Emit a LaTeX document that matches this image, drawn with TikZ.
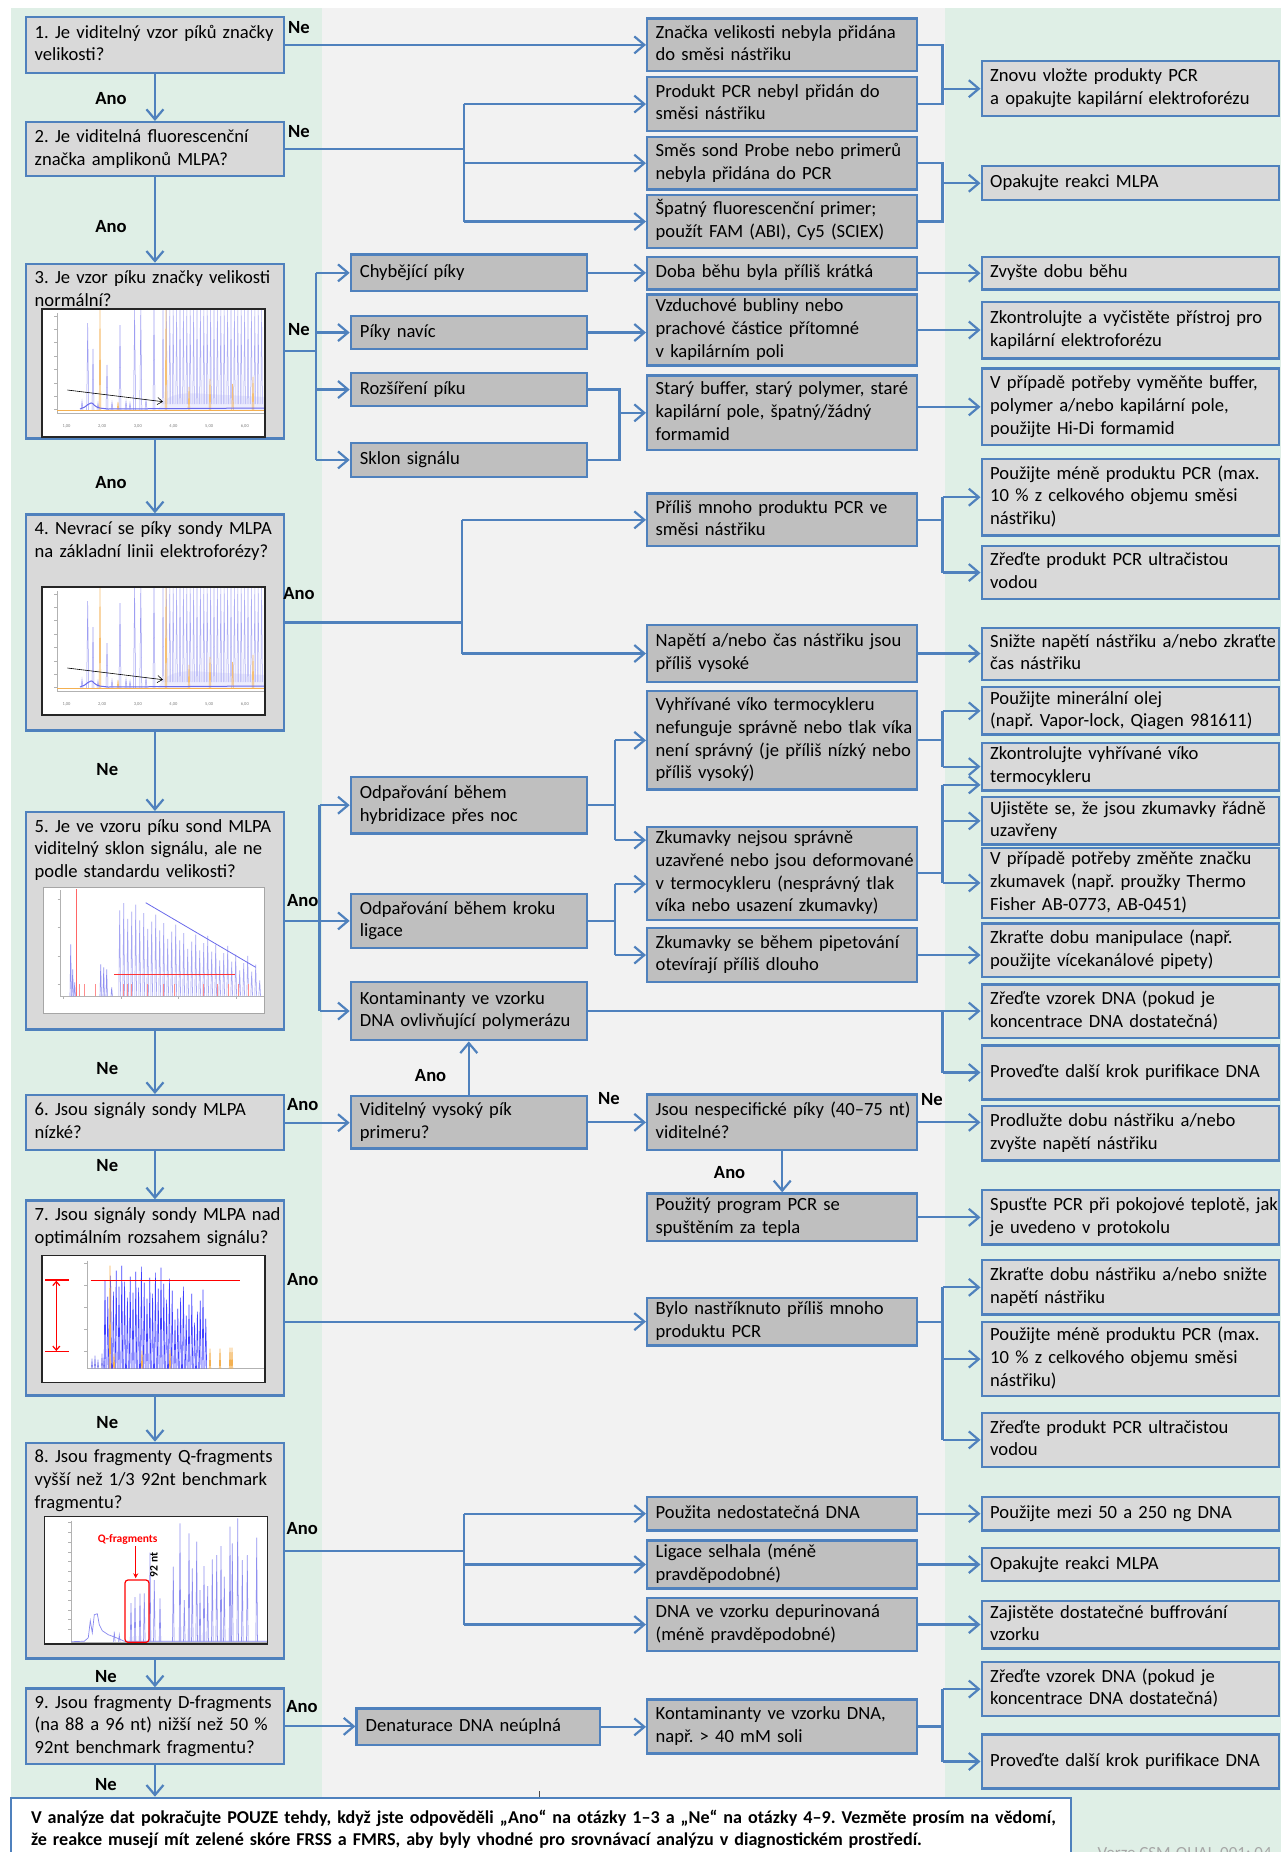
\documentclass[tikz,border=0pt]{standalone}
\usepackage{fontspec}
\setmainfont{Carlito}
\usetikzlibrary{arrows.meta,positioning}
\frenchspacing

\definecolor{flowblue}{RGB}{79,129,189}
\definecolor{qfill}{RGB}{217,217,217}
\definecolor{cfill}{RGB}{191,191,191}
\definecolor{bandgreen}{RGB}{223,239,230}
\definecolor{bandgray}{RGB}{242,242,242}
\definecolor{peakblue}{RGB}{105,105,235}
\definecolor{peakorange}{RGB}{244,176,80}

% lines of a box, never rewrapped
\newcommand{\ml}[1]{\begin{tabular}{@{}l@{}}#1\end{tabular}}
\newcommand{\toptext}[2]{\parbox[t][#1][t]{240.5pt}{\begin{tabular}[t]{@{}l@{}}#2\end{tabular}}}

% size standard run (questions 3 and 4)
\newcommand{\sizechart}[3]{%
\begin{scope}[shift={(#1,#2)}]
\fill[white] (0,0) rectangle (223,128);
\fill[peakblue!12] (116,101) .. controls (124,84) and (140,83) .. (165,85) -- (223,88) -- (223,101) -- cycle;
\draw[gray!60,line width=0.5pt] (15,4) -- (15,104) -- (223,104);
\foreach \y in {7,20,33,47,60,74,87,100} \draw[gray!60,line width=0.5pt] (12,\y) -- (15,\y);
\foreach \l [count=\i from 0] in {1,...,6}
  \node[font=\fontsize{4.5}{5}\selectfont,text=gray] (#3x\i) at (24.5+35.66*\i,117.7) {\l,00};
\draw[peakorange,line width=0.8pt] (15,101) -- (223,101);
\foreach \x in {121,124.4,...,221}
  \draw[peakblue!55,line width=0.5pt] (\x-0.8,95) -- (\x,1) -- (\x+0.8,95);
\foreach \x/\ph in {45.7/14,51/40,65/56,78/16,92.6/1,98.8/1,112/1,40/92,56/94,70/93,84/92,88/94,104/90}
  \draw[peakblue!65,line width=0.5pt] (\x-1,101) -- (\x,\ph) -- (\x+1,101);
\foreach \x/\ph in {58/1,124/1,147/78,168/70,190.6/75,211/68,76/93}
  \draw[peakorange!80,line width=0.7pt] (\x-0.8,101) -- (\x,\ph) -- (\x+0.8,101);
\draw[peakblue,line width=1pt] (38,100) .. controls (45,99) and (48,90) .. (52,96) .. controls (56,100) and (60,99) .. (66,100) -- (223,99);
\draw[black,line width=0.6pt,-{Straight Barb[length=5pt,width=7pt]}] (25.3,81) -- (121,92.7);
\draw[black!85,line width=1.2pt] (0,0) rectangle (223,128);
\end{scope}}

% slope run (question 5)
\newcommand{\slopechart}[2]{%
\begin{scope}[shift={(#1,#2)}]
\fill[white] (0,0) rectangle (221,126);
\draw[gray!60,line width=0.5pt] (17,3) -- (17,109) -- (221,109);
\foreach \y in {12,40,69,97} \draw[gray!60,line width=0.5pt] (14,\y) -- (17,\y);
\foreach \x in {20,78,135,193} \draw[gray!60,line width=0.5pt] (\x,109) -- (\x,112);
\draw[red!60,line width=0.9pt] (33,2) -- (33,109);
\foreach \x/\ph in {27/57,29/82,31/95,57/77,60/80,63/82,68/100}
  \draw[peakblue!75,line width=0.6pt] (\x-0.7,109) -- (\x,\ph) -- (\x+0.7,109);
\foreach \x [count=\i] in {76,80,...,216}{
  \pgfmathsetmacro{\ph}{9+(\x-76)*0.45+mod(\i*37,23)}
  \draw[peakblue!60,line width=0.6pt] (\x-0.9,109) -- (\x,\ph) -- (\x+0.9,109);}
\foreach \x in {36,41,52,80,84,88,104,120,131,160,174,185,195,205}
  \draw[red!45,line width=0.6pt] (\x,109) -- (\x,97);
\draw[peakblue,line width=0.8pt] (102,15.4) -- (212,80);
\draw[red!80,line width=0.9pt] (70.6,86.7) -- (191,86.7);
\draw[gray!70,line width=1pt] (0,0) rectangle (221,126);
\end{scope}}

% run above the optimal range (question 7)
\newcommand{\highchart}[2]{%
\begin{scope}[shift={(#1,#2)}]
\fill[white] (0,0) rectangle (223,127);
\draw[gray!60,line width=0.5pt] (45,5) -- (45,113) -- (223,113);
\foreach \y in {8,30,52,74,96} \draw[gray!60,line width=0.5pt] (42,\y) -- (45,\y);
\foreach \x/\ph in {50/103,53/100,56/104,60/98,62/102}
  \draw[peakblue!80,line width=0.6pt] (\x-0.7,113) -- (\x,\ph) -- (\x+0.7,113);
\foreach \x [count=\i] in {63,65.8,...,166}{
  \pgfmathsetmacro{\ph}{\x<130 ? 9+mod(\i*53,37) : 30+mod(\i*29,40)}
  \draw[blue!75,line width=0.6pt] (\x-0.9,113) -- (\x,\ph) -- (\x+0.9,113);}
\foreach \x/\ph in {68/10,72/98,100/95,128/94,168/93,178/93,188/92,190/92}
  \draw[peakorange,line width=0.7pt] (\x-0.7,113) -- (\x,\ph) -- (\x+0.7,113);
\draw[red,line width=0.9pt] (48.6,24.3) -- (198,24.3);
\draw[red,line width=1.2pt] (3,24.3) -- (26.6,24.3) (3,96) -- (26.6,96);
\draw[red,line width=1.2pt,{Straight Barb[length=4pt,width=7pt]}-{Straight Barb[length=4pt,width=7pt]}] (14.3,25) -- (14.3,95.3);
\draw[black!85,line width=1.2pt] (0,0) rectangle (223,127);
\end{scope}}

% Q-fragment run (question 8)
\newcommand{\qchart}[2]{%
\begin{scope}[shift={(#1,#2)}]
\fill[white] (0,0) rectangle (223.4,127.3);
\draw[gray!60,line width=0.5pt] (26.7,4) -- (26.7,125.6) -- (223.4,125.6);
\foreach \y in {6,15.7,...,122} \draw[gray!60,line width=0.5pt] (23.7,\y) -- (26.7,\y);
\draw[peakblue!80,line width=0.7pt] (27,125) -- (40,124.5) -- (44,121) -- (46,104) -- (48,116) -- (50,98) -- (53,97) -- (55,108) -- (58,114) -- (64,118) -- (72,121) -- (80,124.5) -- (223,124.5);
\foreach \x/\ph in {86.7/86.3,90.7/80.3,95.7/77,100/76.6,105.7/36,110/63.3,115.7/81.6,129/50,135.7/6.6,140/83.3,144.7/16.6,148/51.6,152.4/25,155.7/73.3,159.7/49.3,163.4/69.3,168/42.6,172.4/38.3,176.7/29.3,180/60,185.7/10,188/26.6,193.4/1.6,198/43.3,203/38.3,212.4/21,70/115,75/118}
  \draw[peakblue!75,line width=0.6pt] (\x-0.8,125) -- (\x,\ph) -- (\x+0.8,125);
\draw[red,line width=1.2pt,rounded corners=3pt] (80.7,63.3) rectangle (104.7,125.6);
\draw[red,line width=1pt,-{Stealth[length=5pt,width=5pt]}] (91.4,29.3) -- (91.4,61.6);
\node[text=red,font=\bfseries\fontsize{11.5}{12}\selectfont] (qfraglabel) at (83.4,22.6) {Q-fragments};
\node[rotate=90,font=\bfseries\fontsize{11.5}{12}\selectfont] (ntlabel) at (109.7,48.3) {92 nt};
\draw[black!85,line width=1.2pt] (0,0) rectangle (223.4,127.3);
\end{scope}}

\begin{document}
\begin{tikzpicture}[x=1pt,y=-1pt,>={Straight Barb[length=10pt,width=17pt]}]
\tikzstyle{boxbase} = [rectangle, draw=flowblue, line width=2.4pt, anchor=north west,
inner xsep=8.5pt, inner ysep=1pt, align=left, font=\fontsize{18.6}{22.7}\selectfont]
\tikzstyle{question} = [boxbase, fill=qfill, minimum width=258.5pt, inner xsep=9pt, text width=240.5pt]
\tikzstyle{qtop} = [question, inner ysep=4pt]
\tikzstyle{cause} = [boxbase, fill=cfill, minimum width=235.8pt, inner xsep=9pt, text width=217.8pt]
\tikzstyle{cause2} = [boxbase, fill=cfill, minimum width=270pt, text width=253pt]
\tikzstyle{remedy} = [boxbase, fill=qfill, minimum width=297pt, text width=280pt]
\tikzstyle{notebox} = [rectangle, draw=flowblue, line width=2.4pt, fill=white, anchor=north west,
minimum width=1060.2pt, minimum height=64pt, inner xsep=20pt, text width=1020.2pt, align=left,
font=\bfseries\fontsize{18.1}{22.7}\selectfont]
\tikzstyle{answer} = [font=\bfseries\fontsize{18.6}{22}\selectfont]
\tikzstyle{line} = [draw=flowblue, line width=2.2pt, ->]
\tikzstyle{wire} = [draw=flowblue, line width=2.2pt]

\useasboundingbox (0,0) rectangle (1281,1852);
\clip (0,0) rectangle (1281,1852);
% bands
\fill[bandgreen] (11,8) rectangle (322,1852);
\fill[bandgray] (322,8) rectangle (944.6,1852);
\fill[bandgreen] (944.6,8) rectangle (1281,1852);

% questions
\node[question, minimum height=56pt] (q1) at (24.5,15.7) {\ml{1. Je viditelný vzor píků značky\\velikosti?}};
\node[question, minimum height=54pt] (q2) at (24.5,121) {\ml{2. Je viditelná fluorescenční\\značka amplikonů MLPA?}};
\node[qtop, minimum height=174.6pt] (q3) at (24.5,262.7) {\toptext{166.6pt}{3. Je vzor píku značky velikosti\\normální?}};
\node[qtop, minimum height=216pt] (q4) at (24.5,513.3) {\toptext{208pt}{4. Nevrací se píky sondy MLPA\\na základní linii elektroforézy?}};
\node[qtop, minimum height=217.3pt] (q5) at (24.5,811) {\toptext{209.3pt}{5. Je ve vzoru píku sond MLPA\\viditelný sklon signálu, ale ne\\podle standardu velikosti?}};
\node[question, minimum height=55pt] (q6) at (24.5,1094) {\ml{6. Jsou signály sondy MLPA\\nízké?}};
\node[qtop, minimum height=195pt] (q7) at (24.5,1199.3) {\toptext{187pt}{7. Jsou signály sondy MLPA nad\\optimálním rozsahem signálu?}};
\node[qtop, minimum height=215.6pt] (q8) at (24.5,1441.7) {\toptext{207.6pt}{8. Jsou fragmenty Q-fragments\\vyšší než 1/3 92nt benchmark\\fragmentu?}};
\node[question, minimum height=75.7pt] (q9) at (24.5,1687.3) {\ml{9. Jsou fragmenty D-fragments\\(na 88 a 96 nt) nižší než 50 \%\\92nt benchmark fragmentu?}};

\sizechart{42}{309}{q3c}
\sizechart{42}{587}{q4c}
\slopechart{43.7}{887.3}
\highchart{42}{1255.7}
\qchart{44.3}{1516.7}

% causes, first column
\node[cause, minimum height=36.7pt] (c1) at (349.7,253.3) {\ml{Chybějící píky}};
\node[cause, minimum height=32.7pt] (c2) at (349.7,315) {\ml{Píky navíc}};
\node[cause, minimum height=33.3pt] (c3) at (349.7,371.7) {\ml{Rozšíření píku}};
\node[cause, minimum height=34pt] (c4) at (349.7,441.7) {\ml{Sklon signálu}};
\node[cause, minimum height=56.6pt] (c5) at (349.7,775.7) {\ml{Odpařování během\\hybridizace přes noc}};
\node[cause, minimum height=54pt] (c6) at (349.7,892.7) {\ml{Odpařování během kroku\\ligace}};
\node[cause, minimum height=58.3pt] (c7) at (349.7,980.7) {\ml{Kontaminanty ve vzorku\\DNA ovlivňující polymerázu}};
\node[cause, minimum height=52.3pt] (c8) at (349.7,1095) {\ml{Viditelný vysoký pík\\primeru?}};
\node[cause, minimum width=243.5pt, text width=225.5pt, minimum height=36.7pt] (c9) at (355.4,1707.3) {\ml{Denaturace DNA neúplná}};

% causes, second column
\node[cause2, minimum height=52.7pt] (m1) at (646,17.3) {\ml{Značka velikosti nebyla přidána\\do směsi nástřiku}};
\node[cause2, minimum height=54.3pt] (m2) at (646,75.7) {\ml{Produkt PCR nebyl přidán do\\směsi nástřiku}};
\node[cause2, minimum height=52.6pt] (m3) at (646,135.7) {\ml{Směs sond Probe nebo primerů\\nebyla přidána do PCR}};
\node[cause2, minimum height=52.7pt] (m4) at (646,194) {\ml{Špatný fluorescenční primer;\\použít FAM (ABI), Cy5 (SCIEX)}};
\node[cause2, minimum height=32.6pt] (m5) at (646,255.7) {\ml{Doba běhu byla příliš krátká}};
\node[cause2, minimum height=71pt] (m6) at (646,293.3) {\ml{Vzduchové bubliny nebo\\prachové částice přítomné\\v kapilárním poli}};
\node[cause2, minimum height=74.7pt] (m7) at (646,374.3) {\ml{Starý buffer, starý polymer, staré\\kapilární pole, špatný/žádný\\formamid}};
\node[cause2, minimum height=52.7pt] (m8) at (646,492.3) {\ml{Příliš mnoho produktu PCR ve\\směsi nástřiku}};
\node[cause2, minimum height=56.7pt] (m9) at (646,624) {\ml{Napětí a/nebo čas nástřiku jsou\\příliš vysoké}};
\node[cause2, minimum height=98.3pt] (m10) at (646,690) {\ml{Vyhřívané víko termocykleru\\nefunguje správně nebo tlak víka\\není správný (je příliš nízký nebo\\příliš vysoký)}};
\node[cause2, minimum height=91.6pt] (m11) at (646,825.7) {\ml{Zkumavky nejsou správně\\uzavřené nebo jsou deformované\\v termocykleru (nesprávný tlak\\víka nebo usazení zkumavky)}};
\node[cause2, minimum height=54.3pt] (m12) at (646,926.7) {\ml{Zkumavky se během pipetování\\otevírají příliš dlouho}};
\node[cause2, minimum height=55.7pt] (m13) at (646,1093.3) {\ml{Jsou nespecifické píky (40–75 nt)\\viditelné?}};
\node[cause2, minimum height=47.7pt] (m14) at (646,1192.3) {\ml{Použitý program PCR se\\spuštěním za tepla}};
\node[cause2, minimum height=44pt] (m15) at (646,1296.7) {\ml{Bylo nastříknuto příliš mnoho\\produktu PCR}};
\node[cause2, minimum height=33.6pt] (m16) at (646,1495.7) {\ml{Použita nedostatečná DNA}};
\node[cause2, minimum height=48pt] (m17) at (646,1539.3) {\ml{Ligace selhala (méně\\pravděpodobné)}};
\node[cause2, minimum height=53.3pt] (m18) at (646,1596.7) {\ml{DNA ve vzorku depurinovaná\\(méně pravděpodobné)}};
\node[cause2, minimum height=54pt] (m19) at (646,1698.3) {\ml{Kontaminanty ve vzorku DNA,\\např. > 40 mM soli}};

% remedies
\node[remedy, minimum height=55pt] (r1) at (980.5,60) {\ml{Znovu vložte produkty PCR\\a opakujte kapilární elektroforézu}};
\node[remedy, minimum height=34pt] (r2) at (980.5,165) {\ml{Opakujte reakci MLPA}};
\node[remedy, minimum height=32.6pt] (r3) at (980.5,255.7) {\ml{Zvyšte dobu běhu}};
\node[remedy, minimum height=56.6pt] (r4) at (980.5,300.7) {\ml{Zkontrolujte a vyčistěte přístroj pro\\kapilární elektroforézu}};
\node[remedy, minimum height=76.7pt] (r5) at (980.5,367.3) {\ml{V případě potřeby vyměňte buffer,\\polymer a/nebo kapilární pole,\\použijte Hi-Di formamid}};
\node[remedy, minimum height=76.6pt] (r6) at (980.5,457.7) {\ml{Použijte méně produktu PCR (max.\\10 \% z celkového objemu směsi\\nástřiku)}};
\node[remedy, minimum height=52.7pt] (r7) at (980.5,545) {\ml{Zřeďte produkt PCR ultračistou\\vodou}};
\node[remedy, minimum height=52.3pt] (r8) at (980.5,626.7) {\ml{Snižte napětí nástřiku a/nebo zkraťte\\čas nástřiku}};
\node[remedy, minimum height=47.3pt] (r9) at (980.5,686) {\ml{Použijte minerální olej\\(např. Vapor-lock, Qiagen 981611)}};
\node[remedy, minimum height=46.6pt] (r10) at (980.5,741.7) {\ml{Zkontrolujte vyhřívané víko\\termocykleru}};
\node[remedy, minimum height=43.3pt] (r11) at (980.5,796) {\ml{Ujistěte se, že jsou zkumavky řádně\\uzavřeny}};
\node[remedy, minimum height=66.6pt] (r12) at (980.5,846.7) {\ml{V případě potřeby změňte značku\\zkumavek (např. proužky Thermo\\Fisher AB-0773, AB-0451)}};
\node[remedy, minimum height=53.7pt] (r13) at (980.5,922.3) {\ml{Zkraťte dobu manipulace (např.\\použijte vícekanálové pipety)}};
\node[remedy, minimum height=53.4pt] (r14) at (980.5,983.3) {\ml{Zřeďte vzorek DNA (pokud je\\koncentrace DNA dostatečná)}};
\node[remedy, minimum height=54pt] (r15) at (980.5,1044.3) {\ml{Proveďte další krok purifikace DNA}};
\node[remedy, minimum height=54.3pt] (r16) at (980.5,1105) {\ml{Prodlužte dobu nástřiku a/nebo\\zvyšte napětí nástřiku}};
\node[remedy, minimum height=54.3pt] (r17) at (980.5,1189) {\ml{Spusťte PCR při pokojové teplotě, jak\\je uvedeno v protokolu}};
\node[remedy, minimum height=54.3pt] (r18) at (980.5,1259) {\ml{Zkraťte dobu nástřiku a/nebo snižte\\napětí nástřiku}};
\node[remedy, minimum height=74.3pt] (r19) at (980.5,1320.7) {\ml{Použijte méně produktu PCR (max.\\10 \% z celkového objemu směsi\\nástřiku)}};
\node[remedy, minimum height=54pt] (r20) at (980.5,1411.7) {\ml{Zřeďte produkt PCR ultračistou\\vodou}};
\node[remedy, minimum height=33.6pt] (r21) at (980.5,1495.7) {\ml{Použijte mezi 50 a 250 ng DNA}};
\node[remedy, minimum height=33.3pt] (r22) at (980.5,1546.7) {\ml{Opakujte reakci MLPA}};
\node[remedy, minimum height=46.7pt] (r23) at (980.5,1600) {\ml{Zajistěte dostatečné buffrování\\vzorku}};
\node[remedy, minimum height=54.3pt] (r24) at (980.5,1660.7) {\ml{Zřeďte vzorek DNA (pokud je\\koncentrace DNA dostatečná)}};
\node[remedy, minimum height=54pt] (r25) at (980.5,1733.3) {\ml{Proveďte další krok purifikace DNA}};

\node[notebox] (note) at (9.8,1796.7) {\ml{V analýze dat pokračujte POUZE tehdy, když jste odpověděli „Ano“ na otázky 1–3 a „Ne“ na otázky 4–9. Vezměte prosím na vědomí,\\že reakce musejí mít zelené skóre FRSS a FMRS, aby byly vhodné pro srovnávací analýzu v diagnostickém prostředí.}};
\node[anchor=base west, text=black!35, font=\fontsize{17}{20}\selectfont] (version) at (1094,1858) {Verze CSM-QUAL-001; 04};
\draw[black!70, line width=0.8pt] (539,1791) -- (539,1797);

% answers
\node[answer] (a1) at (299,28) {Ne};
\node[answer] (a2) at (299,132) {Ne};
\node[answer] (a3) at (299,330) {Ne};
\node[answer] (a4) at (299,593.3) {Ano};
\node[answer] (a5) at (302.8,900.7) {Ano};
\node[answer] (a6) at (302.8,1104.3) {Ano};
\node[answer] (a7) at (302.8,1280) {Ano};
\node[answer] (a8) at (302.3,1528.3) {Ano};
\node[answer] (a9) at (302,1707) {Ano};
\node[answer] (d1) at (111,99) {Ano};
\node[answer] (d2) at (111,227) {Ano};
\node[answer] (d3) at (111,482.3) {Ano};
\node[answer] (d4) at (107.3,769.3) {Ne};
\node[answer] (d5) at (107.3,1068.3) {Ne};
\node[answer] (d6) at (107.3,1165.7) {Ne};
\node[answer] (d7) at (107.3,1422.3) {Ne};
\node[answer] (d8) at (106,1676.7) {Ne};
\node[answer] (d9) at (106,1784.3) {Ne};
\node[answer] (b1) at (430.6,1075.7) {Ano};
\node[answer] (b2) at (608.8,1099) {Ne};
\node[answer] (b3) at (932,1099.3) {Ne};
\node[answer] (b4) at (729.6,1172.3) {Ano};

% junction columns
\coordinate (j2) at (463.6,0);
\coordinate (j3) at (316.2,0);
\coordinate (j4) at (462.3,0);
\coordinate (j5) at (319.5,0);
\coordinate (j8) at (464,0);
\coordinate (k3) at (619.5,0);
\coordinate (k5) at (615,0);
\coordinate (k1) at (942.5,0);
\coordinate (m11a) at ([yshift=33.2pt]m11.west);
\coordinate (m11b) at ([yshift=-10.8pt]m11.west);
\coordinate (r10b) at ([yshift=-18.3pt]r10.west);

% main column
\path[line] (q1) -- (q2);
\path[line] (q2) -- (q3);
\path[line] (q3) -- (q4);
\path[line] (q4) -- (q5);
\path[line] (q5) -- (q6);
\path[line] (q6) -- (q7);
\path[line] (q7) -- (q8);
\path[line] (q8) -- (q9);
\path[line] (q9.south) -- (q9.south |- note.north);

% questions 1 and 2
\path[line] (q1.east) -- (q1.east -| m1.west);
\path[wire] (q2.east) -- (q2.east -| j2);
\path[wire] (j2 |- m2) -- (j2 |- m4);
\path[line] (j2 |- m2) -- (m2.west);
\path[line] (j2 |- m3) -- (m3.west);
\path[line] (j2 |- m4) -- (m4.west);
\path[wire] (m1.east) -- (m1.east -| k1) -- (m2.east -| k1) -- (m2.east);
\path[line] (r1.west -| k1) -- (r1.west);
\path[wire] (m3.east) -- (m3.east -| k1) -- (m4.east -| k1) -- (m4.east);
\path[line] (r2.west -| k1) -- (r2.west);

% question 3
\path[wire] (q3.east) -- (q3.east -| j3);
\path[wire] (j3 |- c1) -- (j3 |- c4);
\path[line] (j3 |- c1) -- (c1.west);
\path[line] (j3 |- c2) -- (c2.west);
\path[line] (j3 |- c3) -- (c3.west);
\path[line] (j3 |- c4) -- (c4.west);
\path[line] (c1.east) -- (c1.east -| m5.west);
\path[line] (c2.east) -- (c2.east -| m6.west);
\path[wire] (c3.east) -- (c3.east -| k3) -- (c4.east -| k3) -- (c4.east);
\path[line] (m7.west -| k3) -- (m7.west);
\path[line] (m5.east) -- (m5.east -| r3.west);
\path[line] (m6.east) -- (m6.east -| r4.west);
\path[line] (m7.east |- r5) -- (r5.west);

% question 4
\path[wire] (q4.east) -- (q4.east -| j4);
\path[wire] (j4 |- m8) -- (j4 |- m9);
\path[line] (j4 |- m8) -- (m8.west);
\path[line] (j4 |- m9) -- (m9.west);
\path[wire] (m8.east) -- (m8.east -| k1);
\path[wire] (k1 |- r6) -- (k1 |- r7);
\path[line] (k1 |- r6) -- (r6.west);
\path[line] (k1 |- r7) -- (r7.west);
\path[line] (m9.east) -- (m9.east -| r8.west);

% question 5
\path[wire] (q5.east) -- (q5.east -| j5);
\path[wire] (j5 |- c5) -- (j5 |- c7);
\path[line] (j5 |- c5) -- (c5.west);
\path[line] (j5 |- c6) -- (c6.west);
\path[line] (j5 |- c7) -- (c7.west);
\path[wire] (c5.east) -- (c5.east -| k5);
\path[wire] (k5 |- m10) -- (k5 |- m11a);
\path[line] (k5 |- m10) -- (m10.west);
\path[line] (k5 |- m11a) -- (m11a);
\path[wire] (c6.east) -- (c6.east -| k5);
\path[wire] (k5 |- m11b) -- (k5 |- m12);
\path[line] (k5 |- m11b) -- (m11b);
\path[line] (k5 |- m12) -- (m12.west);
\path[wire] (m10.east) -- (m10.east -| k1);
\path[wire] (k1 |- r9) -- (k1 |- r10);
\path[line] (k1 |- r9) -- (r9.west);
\path[line] (k1 |- r10) -- (r10.west);
\path[wire] (m11.east) -- (m11.east -| k1);
\path[wire] (k1 |- r10b) -- (k1 |- r12);
\path[line] (k1 |- r10b) -- (r10b);
\path[line] (k1 |- r11) -- (r11.west);
\path[line] (k1 |- r12) -- (r12.west);
\path[line] (m12.east) -- (m12.east -| r13.west);
\path[line] (c7.east) -- (c7.east -| r14.west);
\path[wire] (c7.east -| k1) -- (k1 |- r15);
\path[line] (k1 |- r15) -- (r15.west);

% question 6
\path[line] (q6.east) -- (q6.east -| c8.west);
\path[line] (c8) -- (c7);
\path[line] (c8.east) -- (c8.east -| m13.west);
\path[line] (m13.east) -- (m13.east -| r16.west);
\path[line] (m13) -- (m14);
\path[line] (m14.east) -- (m14.east -| r17.west);

% question 7
\path[line] (q7.east |- m15) -- (m15.west);
\path[wire] (m15.east) -- (m15.east -| k1);
\path[wire] (k1 |- r18) -- (k1 |- r20);
\path[line] (k1 |- r18) -- (r18.west);
\path[line] (k1 |- r19) -- (r19.west);
\path[line] (k1 |- r20) -- (r20.west);

% question 8
\path[wire] (q8.east) -- (q8.east -| j8);
\path[wire] (j8 |- m16) -- (j8 |- m18);
\path[line] (j8 |- m16) -- (m16.west);
\path[line] (j8 |- m17) -- (m17.west);
\path[line] (j8 |- m18) -- (m18.west);
\path[line] (m16.east) -- (m16.east -| r21.west);
\path[line] (m17.east) -- (m17.east -| r22.west);
\path[line] (m18.east) -- (m18.east -| r23.west);

% question 9
\path[line] (q9.east) -- (q9.east -| c9.west);
\path[line] (c9.east) -- (c9.east -| m19.west);
\path[wire] (m19.east) -- (m19.east -| k1);
\path[wire] (k1 |- r24) -- (k1 |- r25);
\path[line] (k1 |- r24) -- (r24.west);
\path[line] (k1 |- r25) -- (r25.west);
\end{tikzpicture}
\end{document}
